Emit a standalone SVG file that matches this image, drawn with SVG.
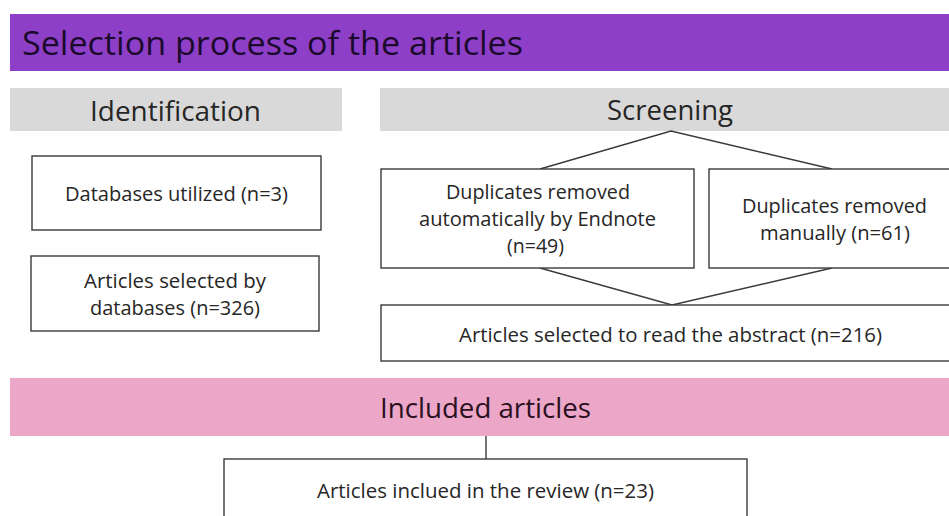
<svg xmlns="http://www.w3.org/2000/svg" width="949" height="516" viewBox="0 0 949 516">
<style>
text{font-family:"Open Sans","Liberation Sans",sans-serif;fill:#262626;}
.hdr{font-size:28px;}
.body{font-size:20px;}
.box{fill:#fff;stroke:#3a3a3a;stroke-width:1.4;}
.conn{stroke:#3a3a3a;stroke-width:1.4;fill:none;}
</style>
<rect width="949" height="516" fill="#fff"/>
<g id="title">
<rect x="10" y="14" width="945" height="57" fill="#8E3FC8"/>
<text x="22" y="55" font-size="32" fill="#1c0a2c" style="fill:#1c0a2c" textLength="501" lengthAdjust="spacingAndGlyphs">Selection process of the articles</text>
</g>
<g id="identification">
<rect x="10" y="88" width="332" height="43" fill="#D9D9D9"/>
<text class="hdr" x="90" y="121" textLength="171" lengthAdjust="spacingAndGlyphs">Identification</text>
</g>
<g id="screening">
<rect x="380" y="88" width="575" height="43" fill="#D9D9D9"/>
<text class="hdr" x="607" y="120" textLength="126" lengthAdjust="spacingAndGlyphs">Screening</text>
</g>
<g id="connectors">
<polyline class="conn" points="540,169 671,131 832,169"/>
<polyline class="conn" points="540,268 672,305 832,268"/>
<line class="conn" x1="486" y1="436" x2="486" y2="459"/>
</g>
<g id="databases">
<rect class="box" x="32" y="156" width="289" height="74"/>
<text class="body" x="65" y="201" textLength="223" lengthAdjust="spacingAndGlyphs">Databases utilized (n=3)</text>
</g>
<g id="articles-selected">
<rect class="box" x="31" y="256" width="288" height="75"/>
<text class="body" x="84" y="288" textLength="182" lengthAdjust="spacingAndGlyphs">Articles selected by</text>
<text class="body" x="90" y="315" textLength="170" lengthAdjust="spacingAndGlyphs">databases (n=326)</text>
</g>
<g id="dup-auto">
<rect class="box" x="381" y="169" width="313" height="99"/>
<text class="body" x="446" y="199" textLength="184" lengthAdjust="spacingAndGlyphs">Duplicates removed</text>
<text class="body" x="419" y="226" textLength="237" lengthAdjust="spacingAndGlyphs">automatically by Endnote</text>
<text class="body" x="507" y="253" textLength="57" lengthAdjust="spacingAndGlyphs">(n=49)</text>
</g>
<g id="dup-manual">
<rect class="box" x="709" y="169" width="252" height="99"/>
<text class="body" x="742" y="213" textLength="185" lengthAdjust="spacingAndGlyphs">Duplicates removed</text>
<text class="body" x="760" y="240" textLength="150" lengthAdjust="spacingAndGlyphs">manually (n=61)</text>
</g>
<g id="abstract">
<rect class="box" x="381" y="305" width="580" height="56"/>
<text class="body" x="459" y="342" textLength="423" lengthAdjust="spacingAndGlyphs">Articles selected to read the abstract (n=216)</text>
</g>
<g id="included">
<rect x="10" y="378" width="945" height="58" fill="#EBA6C8"/>
<text class="hdr" x="380" y="418" style="fill:#2a1020" textLength="211" lengthAdjust="spacingAndGlyphs">Included articles</text>
</g>
<g id="review">
<rect class="box" x="224" y="459" width="523" height="70"/>
<text class="body" x="317" y="498" textLength="337" lengthAdjust="spacingAndGlyphs">Articles inclued in the review (n=23)</text>
</g>
</svg>
